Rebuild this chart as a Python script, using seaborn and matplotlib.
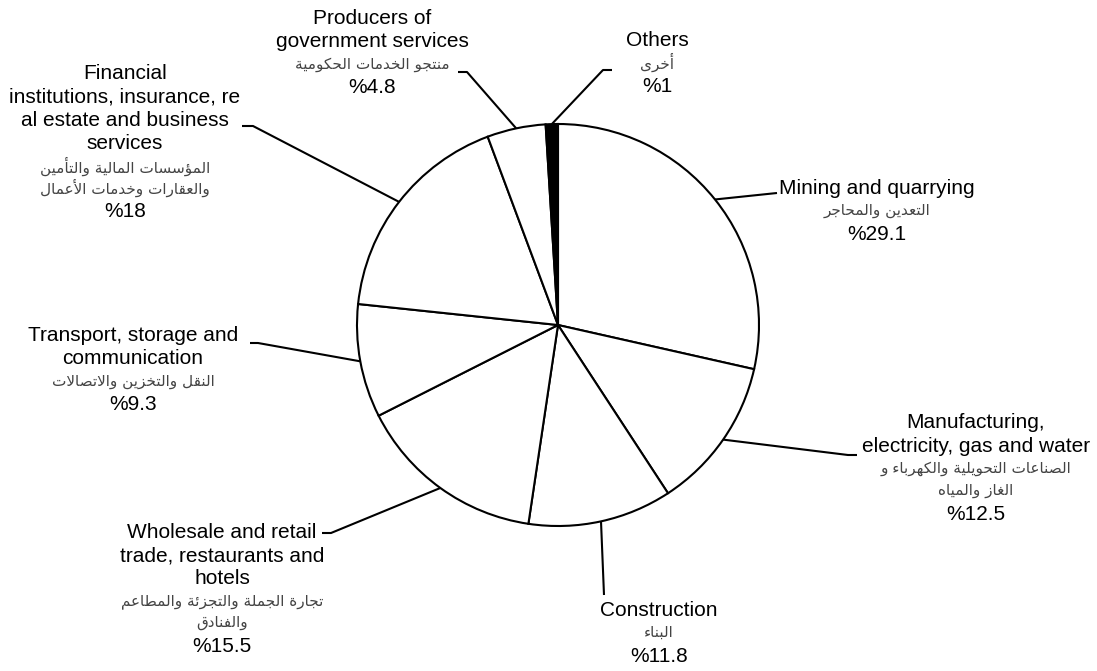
import numpy as np
import matplotlib
matplotlib.use("Agg")
import matplotlib.pyplot as plt
import seaborn as sns

# ---- data ----
sectors_en = [
    ["Mining and quarrying"],
    ["Manufacturing,", "electricity, gas and water"],
    ["Construction"],
    ["Wholesale and retail", "trade, restaurants and", "hotels"],
    ["Transport, storage and", "communication"],
    ["Financial", "institutions, insurance, re", "al estate and business", "services"],
    ["Producers of", "government services"],
    ["Others"],
]
sectors_ar = [
    ["التعدين والمحاجر"],
    ["الصناعات التحويلية والكهرباء و", "الغاز والمياه"],
    ["البناء"],
    ["تجارة الجملة والتجزئة والمطاعم", "والفنادق"],
    ["النقل والتخزين والاتصالات"],
    ["المؤسسات المالية والتأمين", "والعقارات وخدمات الأعمال"],
    ["منتجو الخدمات الحكومية"],
    ["أخرى"],
]
shares = [29.1, 12.5, 11.8, 15.5, 9.3, 18, 4.8, 1]
slice_colors = ["white", "white", "white", "white", "white", "white", "white", "black"]

# ---- layout (pixels) ----
W, H = 1097, 671
CX, CY, R = 558, 325, 201
# text centre x, first line centre y, leader end (x, y), knee x
label_layout = [
    (877, 188, (777, 193), None),
    (976, 423, (857, 455), 848),
    (659, 610, (604, 595), None),
    (222, 532, (322, 533), 331),
    (133, 335, (250, 343), 258),
    (125, 73, (242, 126), 253),
    (372, 18, (458, 72), 467),
    (657, 40, (612, 70), 603),
]

# ---- minimal Arabic shaping (contextual forms + RTL order) ----
_forms_spec = [("\u0621", 1), ("\u0622", 2), ("\u0623", 2), ("\u0624", 2), ("\u0625", 2),
               ("\u0626", 4), ("\u0627", 2), ("\u0628", 4), ("\u0629", 2)]
_forms_spec += [(chr(c), 4) for c in range(0x062A, 0x062F)]
_forms_spec += [(chr(c), 2) for c in range(0x062F, 0x0633)]
_forms_spec += [(chr(c), 4) for c in range(0x0633, 0x063B)]
_forms_spec += [(chr(c), 4) for c in range(0x0641, 0x0648)]
_forms_spec += [("\u0648", 2), ("\u0649", 2), ("\u064A", 4)]
FORMS = {}
_cp = 0xFE80
for ch, n in _forms_spec:
    FORMS[ch] = [chr(_cp + i) for i in range(n)]
    _cp += n
LAM_ALEF = {"\u0622": ("\uFEF5", "\uFEF6"), "\u0623": ("\uFEF7", "\uFEF8"),
            "\u0625": ("\uFEF9", "\uFEFA"), "\u0627": ("\uFEFB", "\uFEFC")}


def dual(ch):
    return ch in FORMS and len(FORMS[ch]) == 4


def shape(text):
    out = []
    i = 0
    n = len(text)
    while i < n:
        ch = text[i]
        prev = text[i - 1] if i > 0 else ""
        if ch not in FORMS:
            out.append(ch)
            i += 1
            continue
        joins_prev = dual(prev)
        if ch == "\u0644" and i + 1 < n and text[i + 1] in LAM_ALEF:
            iso, fin = LAM_ALEF[text[i + 1]]
            out.append(fin if joins_prev else iso)
            i += 2
            continue
        nxt = text[i + 1] if i + 1 < n else ""
        joins_next = dual(ch) and nxt in FORMS
        f = FORMS[ch]
        if len(f) == 1:
            out.append(f[0])
        elif joins_prev and joins_next:
            out.append(f[3])
        elif joins_prev:
            out.append(f[1])
        elif joins_next:
            out.append(f[2])
        else:
            out.append(f[0])
        i += 1
    return "".join(reversed(out))


sns.set_theme(style="white")
plt.rcParams["font.family"] = ["Liberation Sans", "DejaVu Sans"]

fig = plt.figure(figsize=(W / 100, H / 100), dpi=100)
ax = fig.add_axes([0, 0, 1, 1])

wedges, _ = ax.pie(shares, colors=slice_colors, startangle=90, counterclock=False,
                   radius=1, wedgeprops=dict(edgecolor="black", linewidth=1.5))

ax.set_xlim(-CX / R, (W - CX) / R)
ax.set_ylim((CY - H) / R, CY / R)
ax.set_aspect("equal")
ax.axis("off")


def d(px, py):
    return (px - CX) / R, (CY - py) / R


EN_STEP = 23.5
AR_STEP = 21.5
FS_EN = 15
FS_AR = 11

for w, en, ar, v, (tx, ty, (ex, ey), kx) in zip(wedges, sectors_en, sectors_ar, shares, label_layout):
    mid = np.deg2rad((w.theta1 + w.theta2) / 2)
    xs, ys = [np.cos(mid)], [np.sin(mid)]
    if kx is not None:
        k = d(kx, ey)
        xs.append(k[0]); ys.append(k[1])
    e = d(ex, ey)
    xs.append(e[0]); ys.append(e[1])
    ax.plot(xs, ys, color="black", lw=1.5, solid_capstyle="butt")

    y = ty
    for line in en:
        ax.text(*d(tx, y), line, ha="center", va="center", fontsize=FS_EN, color="black")
        y += EN_STEP
    y -= 1
    for line in ar:
        ax.text(*d(tx, y), shape(line), ha="center", va="center", fontsize=FS_AR,
                color="#444444", family=["DejaVu Sans"])
        y += AR_STEP
    y += 2
    ax.text(*d(tx, y), f"%{v:g}", ha="center", va="center", fontsize=FS_EN, color="black")

fig.savefig("out.png", dpi=100, facecolor="white")
